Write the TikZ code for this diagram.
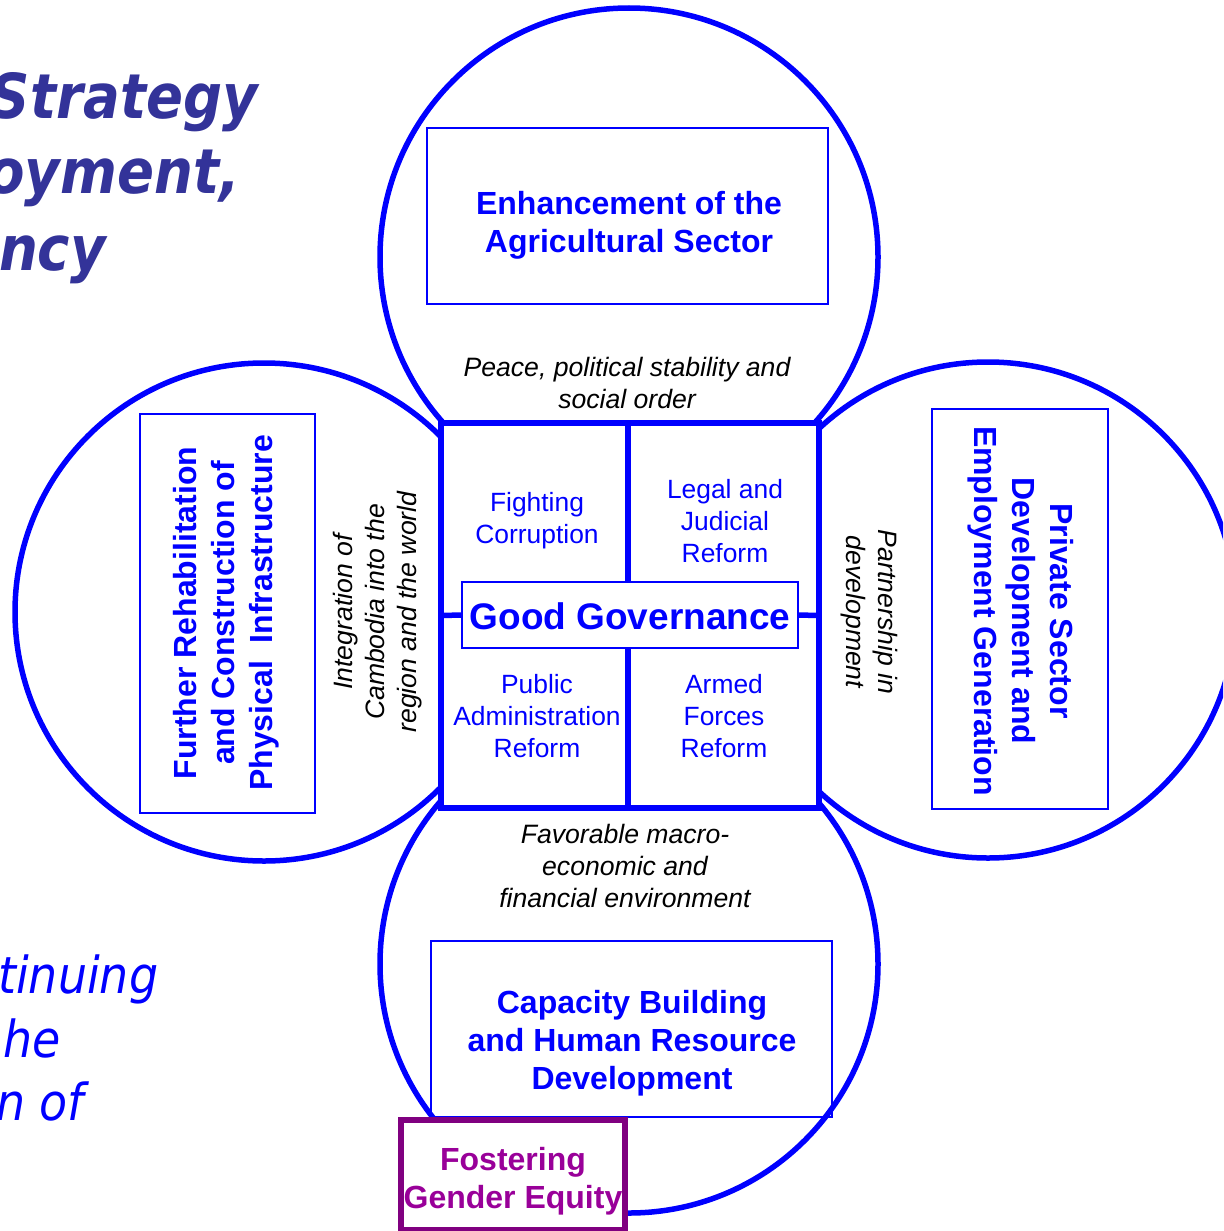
\documentclass[tikz,border=0pt]{standalone}
\usepackage{fontspec}
\setmainfont{Liberation Sans}
\newfontfamily\tahomalike{DejaVu Sans}
\definecolor{gblue}{RGB}{0,0,255}
\definecolor{titleblue}{RGB}{51,51,153}
\definecolor{purpline}{RGB}{128,0,128}
\definecolor{purptext}{RGB}{153,0,153}
\begin{document}
\begin{tikzpicture}[x=1pt,y=-1pt,
  ring/.style={draw=gblue,line width=5.5pt},
  thickframe/.style={draw=gblue,line width=5.5pt,fill=white,inner sep=0pt,outer sep=0pt},
  thinbox/.style={draw=gblue,line width=2pt,inner sep=0pt,outer sep=0pt},
  boldlbl/.style={text=gblue,font=\fontsize{32}{38}\selectfont\bfseries,align=center,inner sep=0pt},
  quadlbl/.style={text=gblue,font=\fontsize{26.4}{32}\selectfont,align=center,inner sep=0pt},
  itallbl/.style={text=black,font=\fontsize{26.6}{32}\selectfont\itshape,align=center,inner sep=0pt},
  titlelbl/.style={text=titleblue,font=\tahomalike\fontsize{62}{75}\selectfont\bfseries\itshape,inner sep=0pt},
  sidelbl/.style={text=gblue,font=\tahomalike\fontsize{51}{64}\selectfont\itshape,inner sep=0pt},
]
\fill[white] (0,0) rectangle (1223,1231);
\useasboundingbox (0,0) rectangle (1223,1231);
\begin{scope}
\clip (0,0) rectangle (1223,1231);

% title fragments
\node[titlelbl,anchor=base east] (t1) at (258,118) {\scalebox{0.88}[1]{Strategy}};
\node[titlelbl,anchor=base east] (t2) at (240,193) {\scalebox{0.88}[1]{ployment,}};
\node[titlelbl,anchor=base east] (t3) at (106,270) {\scalebox{0.88}[1]{ency}};

% left-bottom fragments
\node[sidelbl,anchor=base west] (s1) at (-2,993) {\scalebox{0.9}[1]{tinuing}};
\node[sidelbl,anchor=base west] (s2) at (3,1057) {\scalebox{0.9}[1]{he}};
\node[sidelbl,anchor=base west] (s3) at (-4,1120) {\scalebox{0.9}[1]{n of}};

% four circles
\draw[ring] (629,257) circle[radius=249];
\draw[ring] (629,964) circle[radius=249];
\draw[ring] (264,612) circle[radius=249];
\draw[ring] (988,610) circle[radius=248];

% central square
\node[thickframe,minimum width=378,minimum height=385] (gg) at (630,615.5) {};
\node[thinbox,fill=white,minimum width=336,minimum height=66] (ggbox) at (630,615) {};
\node[text=gblue,font=\fontsize{37}{44}\selectfont\bfseries,inner sep=0pt] (ggtxt) at (630,616) {Good Governance};
\draw[gblue,line width=5.5pt] (gg.north -| 628,0) -- (ggbox.north -| 628,0);
\draw[gblue,line width=5.5pt] (ggbox.south -| 628,0) -- (gg.south -| 628,0);
\draw[gblue,line width=5.5pt] (gg.west) -- (ggbox.west);
\draw[gblue,line width=5.5pt] (ggbox.east) -- (gg.east);

\node[quadlbl] (q1) at (537,521) {Fighting\\Corruption};
\node[quadlbl] (q2) at (725,521) {Legal and\\Judicial\\Reform};
\node[quadlbl] (q3) at (537,716) {Public\\Administration\\Reform};
\node[quadlbl] (q4) at (724,716) {Armed\\Forces\\Reform};

% outer boxes
\node[thinbox,minimum width=401,minimum height=176] (agri) at (627.5,216) {};
\node[boldlbl] (agritxt) at (629,225) {Enhancement of the\\Agricultural Sector};

\node[thinbox,minimum width=401,minimum height=176] (cap) at (631.5,1029) {};
\node[boldlbl] (captxt) at (632,1043.5) {Capacity Building\\and Human Resource\\Development};

\node[thinbox,minimum width=175,minimum height=399] (infra) at (227.5,613.5) {};
\node[boldlbl,rotate=90] (infratxt) at (226,613) {Further Rehabilitation\\and Construction of\\Physical\ \ Infrastructure};

\node[thinbox,minimum width=176,minimum height=400] (priv) at (1020,609) {};
\node[boldlbl,rotate=-90] (privtxt) at (1021,611) {Private Sector\\Development and\\Employment Generation};

% italic connector labels
\node[itallbl] (peace) at (627,383) {Peace, political stability and\\social order};
\node[itallbl] (macro) at (625,866) {Favorable macro-\\economic and\\financial environment};
\node[itallbl,rotate=90] (integ) at (378,612) {Integration of\\Cambodia into the\\region and the world};
\node[itallbl,rotate=-90] (partn) at (869,612) {Partnership in\\development};

% gender box
\node[draw=purpline,line width=5.5pt,fill=white,minimum width=224,minimum height=110,inner sep=0pt,outer sep=0pt] (gender) at (513,1175) {};
\node[text=purptext,font=\fontsize{32}{38}\selectfont\bfseries,align=center,inner sep=0pt] (gendertxt) at (513,1181.5) {Fostering\\Gender Equity};
\end{scope}
\end{tikzpicture}
\end{document}
